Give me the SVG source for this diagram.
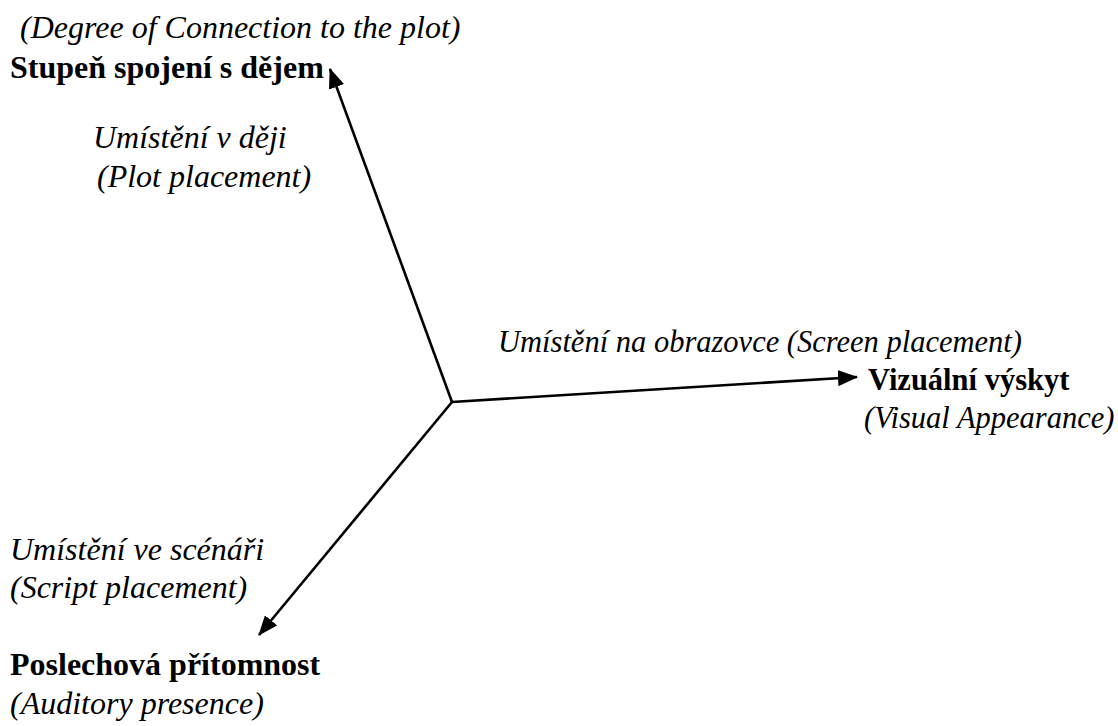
<svg xmlns="http://www.w3.org/2000/svg" width="1118" height="726" viewBox="0 0 1118 726">
<style>
text{font-family:"Liberation Serif","Times New Roman",serif;font-size:32px;fill:#000}
.r{font-size:30.5px}
.b{font-weight:bold}
.i{font-style:italic}
.ax{stroke:#000;stroke-width:2.6;fill:none}
</style>
<defs>
<marker id="ah" viewBox="0 0 20 16" refX="19" refY="8" markerWidth="20" markerHeight="16" markerUnits="userSpaceOnUse" orient="auto">
<path d="M0,0 L20,8 L0,16 Z" fill="#000"/>
</marker>
</defs>
<rect width="1118" height="726" fill="#fff"/>
<g id="connectors">
<line class="ax" x1="452" y1="402" x2="330" y2="69" marker-end="url(#ah)"/>
<line class="ax" x1="452" y1="402" x2="857" y2="377" marker-end="url(#ah)"/>
<line class="ax" x1="452" y1="402" x2="259" y2="635" marker-end="url(#ah)"/>
</g>
<g id="node-plot">
<text class="i" x="20" y="38">(Degree of Connection to the plot)</text>
<text class="b" x="10" y="78">Stupeň spojení s dějem</text>
</g>
<g id="label-plot">
<text class="i" x="93" y="148">Umístění v ději</text>
<text class="i" x="97" y="187">(Plot placement)</text>
</g>
<g id="label-screen">
<text class="i r" x="498" y="352">Umístění na obrazovce (Screen placement)</text>
</g>
<g id="node-visual">
<text class="b r" x="868" y="390">Vizuální výskyt</text>
<text class="i r" x="864" y="428">(Visual Appearance)</text>
</g>
<g id="label-script">
<text class="i" x="10" y="560">Umístění ve scénáři</text>
<text class="i" x="10" y="598">(Script placement)</text>
</g>
<g id="node-auditory">
<text class="b" x="10" y="675">Poslechová přítomnost</text>
<text class="i" x="10" y="714">(Auditory presence)</text>
</g>
</svg>
